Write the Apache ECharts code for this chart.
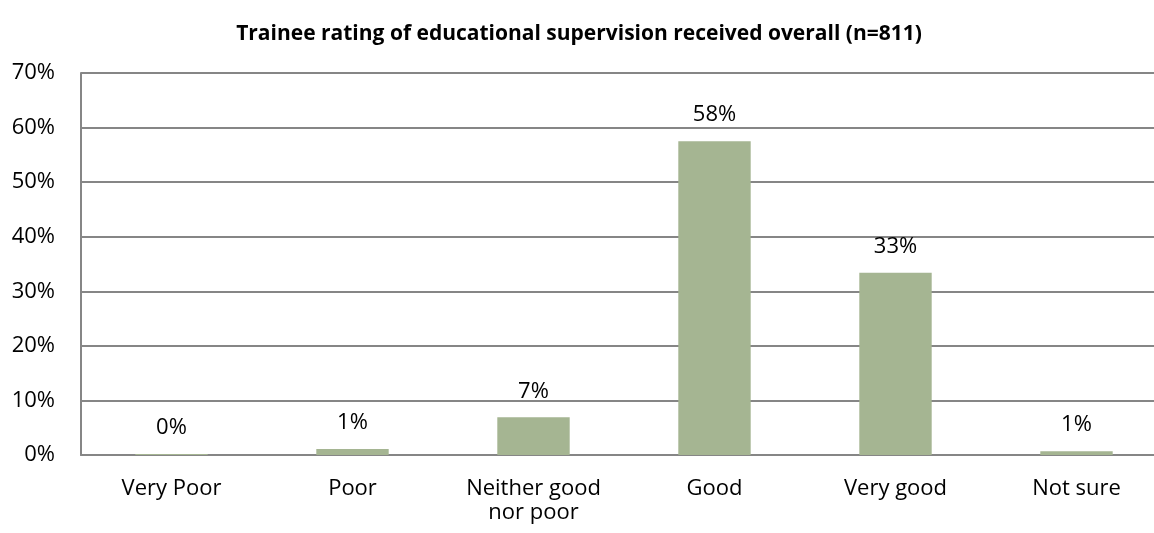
<!DOCTYPE html>
<html>
<head>
<meta charset="utf-8">
<script src="https://cdn.jsdelivr.net/npm/echarts@6/dist/echarts.min.js"></script>
<style>
  html, body { margin: 0; padding: 0; background: #fff; overflow: hidden; }
  #chart { width: 1168px; height: 533px; }
</style>
</head>
<body>
<div id="chart"></div>
<script>
// Rating categories and share of trainees (%)
const categories = ['Very Poor', 'Poor', 'Neither good\nnor poor', 'Good', 'Very good', 'Not sure'];
const shares = [0.2, 1.1, 6.9, 57.5, 33.4, 0.7];
const titleText = 'Trainee rating of educational supervision received overall (n=811)';

const chart = echarts.init(document.getElementById('chart'), null, { renderer: 'canvas' });
const fontFamily = '"Open Sans", sans-serif';

chart.setOption({
  animation: false,
  title: {
    text: titleText,
    left: 574,
    top: 19,
    textAlign: 'center',
    textStyle: { fontFamily, fontSize: 21, fontWeight: 'bold', color: '#000' }
  },
  grid: { left: 81, top: 73, width: 1086, height: 382, containLabel: false },
  xAxis: {
    type: 'category',
    data: categories,
    axisLine: { lineStyle: { color: '#868686', width: 2 } },
    axisTick: { show: false },
    axisLabel: { interval: 0, fontFamily, fontSize: 22, color: '#000', margin: 22, lineHeight: 24 }
  },
  yAxis: {
    type: 'value',
    min: 0,
    max: 70,
    interval: 10,
    axisLine: { show: true, lineStyle: { color: '#868686', width: 2 } },
    axisTick: { show: false },
    splitLine: { lineStyle: { color: '#868686', width: 2 } },
    axisLabel: { fontFamily, fontSize: 22, color: '#000', margin: 26, formatter: '{value}%' }
  },
  series: [{
    type: 'bar',
    data: shares,
    barWidth: '40%',
    itemStyle: { color: '#A5B592' },
    label: {
      show: true,
      position: 'top',
      distance: 15,
      fontFamily,
      fontSize: 22,
      color: '#000',
      formatter: p => Math.round(p.value) + '%'
    }
  }]
});
</script>
</body>
</html>
